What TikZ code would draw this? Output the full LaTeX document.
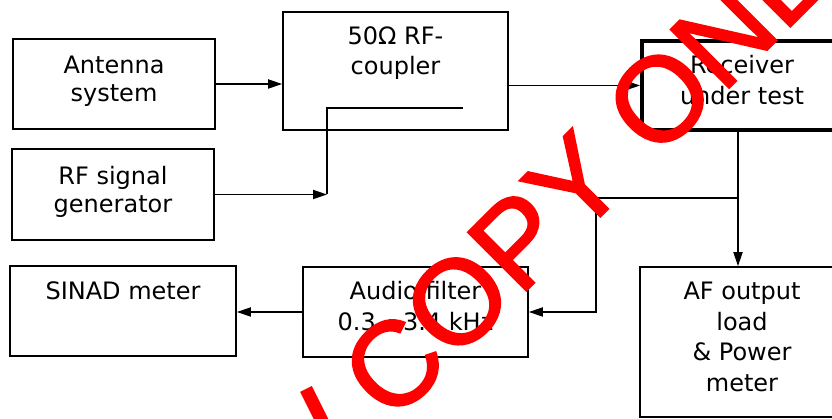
\documentclass[tikz,border=0pt]{standalone}
\usepackage{fontspec}
\setmainfont{DejaVu Sans}
\newfontfamily\wmfont[FakeBold=1.5]{Liberation Sans}
\usetikzlibrary{positioning, arrows.meta}

\begin{document}
\begin{tikzpicture}[
    x=1pt, y=1pt,
    >={Triangle[length=14pt, width=9pt]},
    font=\fontsize{24}{28}\selectfont,
    blk/.style={rectangle, draw, line width=1.6pt, inner sep=0pt},
    dutblk/.style={blk, line width=3.8pt},
    lbl/.style={align=center, inner sep=0pt},
    wide/.style={font=\fontsize{24}{30.5}\selectfont},
    sig/.style={->, line width=1.8pt},
    wmark/.style={text=cWm, inner sep=0pt, font=\wmfont\fontsize{120}{120}\selectfont},
]

\definecolor{cWm}{HTML}{FF0000} % watermark red

\useasboundingbox (0,0) rectangle (832,419);
\clip (0,0) rectangle (832,419);

% blocks
\node[blk, minimum width=202, minimum height=90] (ant) at (114,335) {};
\node[lbl, below=18pt of ant.north] (anttxt) {Antenna\\system};

\node[blk, minimum width=225, minimum height=118] (cpl) at (395.5,348) {};
\node[lbl, wide, below=15pt of cpl.north] (cpltxt) {50Ω RF-\\coupler};

\node[dutblk, minimum width=200, minimum height=89] (dut) at (742,333.5) {};
\node[lbl, wide, below=16pt of dut.north] (duttxt) {Receiver\\under test};

\node[blk, minimum width=202, minimum height=91] (gen) at (113,224.5) {};
\node[lbl, below=18pt of gen.north] (gentxt) {RF signal\\generator};

\node[blk, minimum width=226, minimum height=90] (sinad) at (123,108) {};
\node[lbl, below=16pt of sinad.north] (sinadtxt) {SINAD meter};

\node[blk, minimum width=225, minimum height=90] (flt) at (415.5,107) {};
\node[lbl, wide, below=15pt of flt.north] (flttxt) {Audio filter\\0.3 – 3.4 kHz};

\node[blk, minimum width=204, minimum height=150] (afl) at (742,77) {};
\node[lbl, wide, below=16pt of afl.north] (afltxt) {AF output\\load\\\& Power\\meter};

% connectors
\coordinate (tap) at (327,311);
\coordinate (tapend) at (463,311);
\coordinate (split) at (738,221);
\coordinate (bend) at (596,221);

\draw[sig] (ant.east) -- (ant.east -| cpl.west);
\draw[sig] (dut.west -| cpl.east) -- (dut.west);
\draw[sig] (gen.east) -- (gen.east -| tap);
\draw[line width=1.8pt] (gen.east -| tap) -- (tap) -- (tapend);
\draw[sig] (dut.south -| split) -- (afl.north -| split);
\draw[sig] (split) -- (bend) |- (flt.east);
\draw[sig] (flt.west) -- (flt.west -| sinad.east);

% watermark
\node[wmark, rotate=45, anchor=base west] (wm) at (392,-6) {COPY ONLY};
\draw[cWm, line width=13pt] (306,30) -- (324,-6);

\end{tikzpicture}
\end{document}
